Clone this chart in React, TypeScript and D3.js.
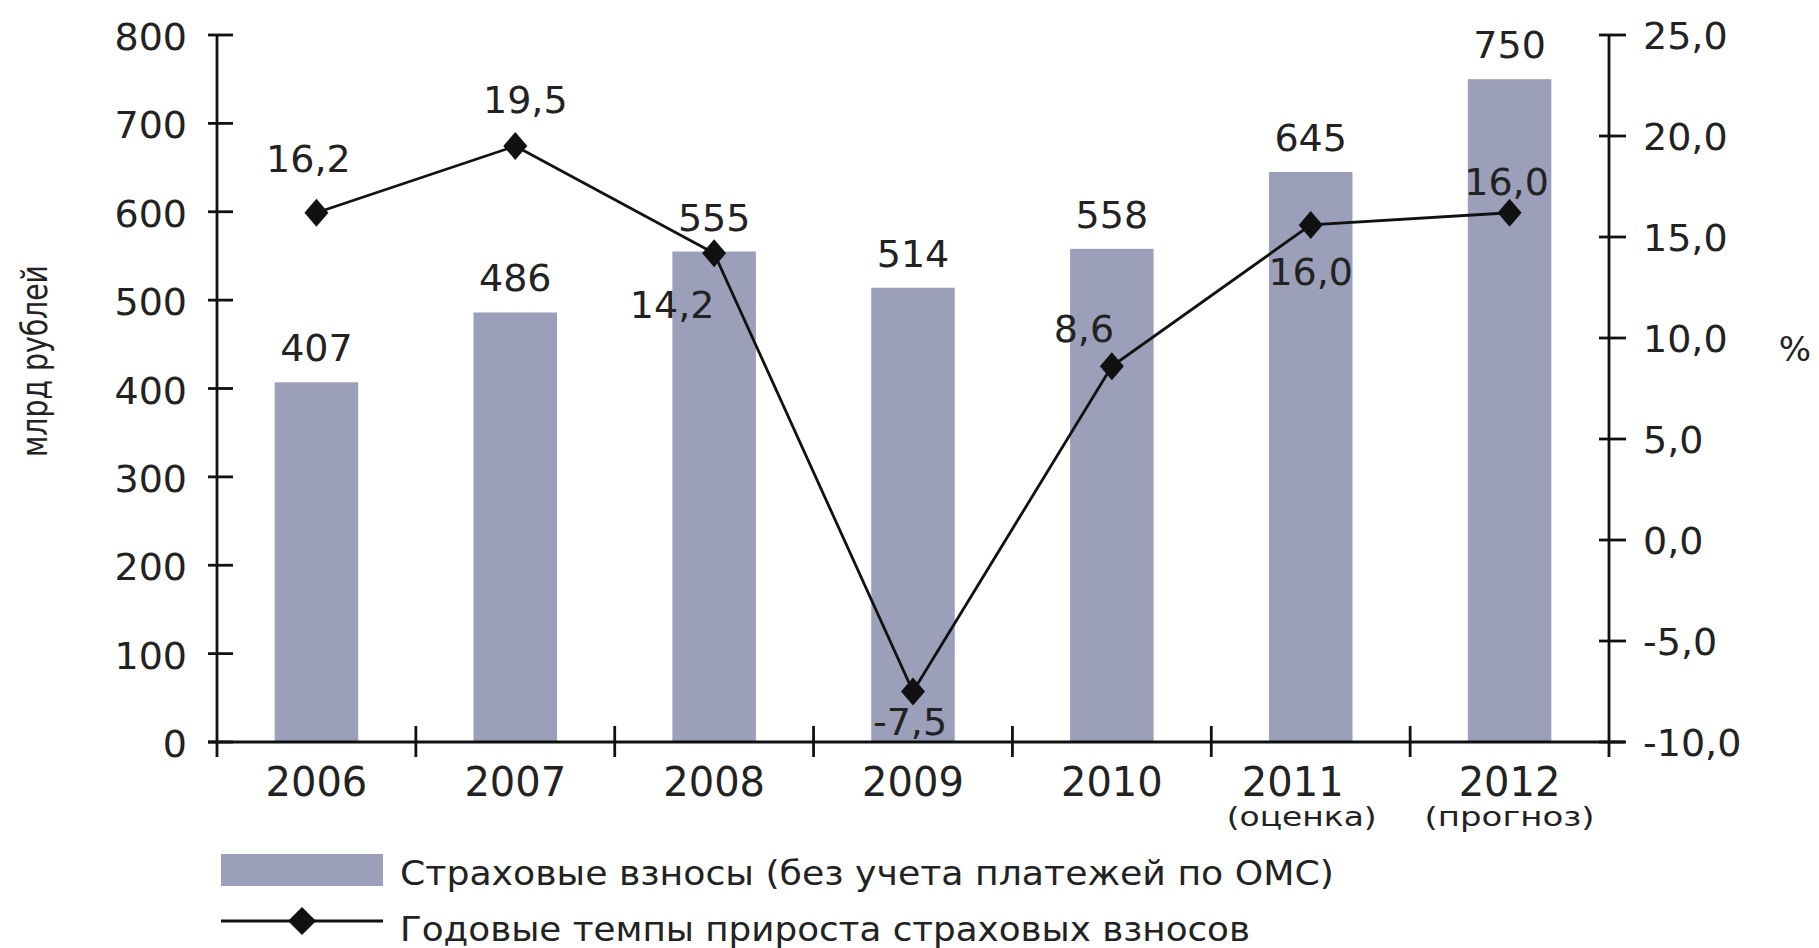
import React from "react";
import * as d3 from "d3";

const years = ["2006", "2007", "2008", "2009", "2010", "2011", "2012"];
const yearNotes = ["", "", "", "", "", "(оценка)", "(прогноз)"];
const contributions = [407, 486, 555, 514, 558, 645, 750];
const growth = [16.2, 19.5, 14.2, -7.5, 8.6, 15.6, 16.2];
const growthLabels = ["16,2", "19,5", "14,2", "-7,5", "8,6", "16,0", "16,0"];
const leftTicks = [0, 100, 200, 300, 400, 500, 600, 700, 800];
const rightTicks = [-10, -5, 0, 5, 10, 15, 20, 25];
const legendBars = "Страховые взносы (без учета платежей по ОМС)";
const legendLine = "Годовые темпы прироста страховых взносов";
const leftTitle = "млрд рублей";
const rightTitle = "%";

// layout (not data)
const growthLabelOffsets: [number, number][] = [
  [-8, -55], [10, -47], [-42, 51], [-3, 29], [-28, -38], [0, 46], [-3, -32],
];
const yearLabelShift = [0, 0, 0, 0, 0, -18, 0];
const noteWidths = [0, 0, 0, 0, 0, 150, 170];

const W = 1819;
const H = 948;
const X0 = 217;
const X1 = 1609;
const Y0 = 742;
const Y1 = 35;
const FONT = "'DejaVu Sans', sans-serif";
const BAR = "#9b9fb9";

export default function App() {
  const x = d3.scaleBand<string>().domain(years).range([X0, X1]).paddingInner(0.58).paddingOuter(0.29);
  const yL = d3.scaleLinear().domain([0, 800]).range([Y0, Y1]);
  const yR = d3.scaleLinear().domain([-10, 25]).range([Y0, Y1]);
  const step = x.step();
  const cx = (i: number) => (x(years[i]) as number) + x.bandwidth() / 2;
  const line = d3.line<number>().x((_, i) => cx(i)).y((d) => yR(d));
  const fmt = (v: number) => v.toFixed(1).replace(".", ",");
  const diamond = (px: number, py: number, w = 12, h = 14) =>
    `M${px},${py - h}L${px + w},${py}L${px},${py + h}L${px - w},${py}Z`;

  return (
    <svg width={W} height={H} style={{ position: "absolute", left: 0, top: 0, background: "#fff" }}
      fontFamily={FONT}>
      <rect width={W} height={H} fill="#fff" />
      {/* bars */}
      {contributions.map((v, i) => (
        <rect key={"b" + i} x={x(years[i])} y={yL(v)} width={x.bandwidth()} height={Y0 - yL(v)} fill={BAR} />
      ))}
      {/* axes */}
      <g stroke="#111" strokeWidth={2.8} fill="none">
        <line x1={X0} y1={Y1} x2={X0} y2={Y0 + 15} />
        <line x1={X1} y1={Y1} x2={X1} y2={Y0 + 15} />
        <line x1={X0 - 9} y1={Y0} x2={X1 + 16} y2={Y0} />
        {leftTicks.map((t) => (
          <line key={"lt" + t} x1={X0 - 9} x2={X0 + 16} y1={yL(t)} y2={yL(t)} />
        ))}
        {rightTicks.map((t) => (
          <line key={"rt" + t} x1={X1 - 10} x2={X1 + 17} y1={yR(t)} y2={yR(t)} />
        ))}
        {years.slice(1).map((_, i) => (
          <line key={"xt" + i} x1={X0 + step * (i + 1)} x2={X0 + step * (i + 1)} y1={Y0 - 16} y2={Y0 + 15} />
        ))}
      </g>
      {/* tick labels */}
      <g fontSize={38} fill="#222">
        {leftTicks.map((t) => (
          <text key={"ll" + t} x={187} y={yL(t) + 15} textAnchor="end">{t}</text>
        ))}
        {rightTicks.map((t) => (
          <text key={"rl" + t} x={1643} y={yR(t) + 14} textAnchor="start">{fmt(t)}</text>
        ))}
      </g>
      <g fill="#222">
        {years.map((yv, i) => (
          <text key={"xl" + i} x={cx(i) + yearLabelShift[i]} y={796} fontSize={40} textAnchor="middle">{yv}</text>
        ))}
        {yearNotes.map((n, i) =>
          n ? (
            <text key={"xn" + i} x={cx(i) + yearLabelShift[i] / 2} y={826} fontSize={26} textAnchor="middle"
              textLength={noteWidths[i]} lengthAdjust="spacingAndGlyphs">{n}</text>
          ) : null
        )}
      </g>
      {/* axis titles */}
      <text transform="translate(47,361) rotate(-90)" fontSize={36} textAnchor="middle" fill="#222"
        textLength={192} lengthAdjust="spacingAndGlyphs">{leftTitle}</text>
      <text x={1795} y={361} fontSize={34} textAnchor="middle" fill="#222">{rightTitle}</text>
      {/* bar value labels */}
      <g fontSize={38} fill="#222">
        {contributions.map((v, i) => (
          <text key={"bv" + i} x={cx(i)} y={yL(v) - 21} textAnchor="middle">{v}</text>
        ))}
      </g>
      {/* growth line */}
      <path d={line(growth) as string} fill="none" stroke="#111" strokeWidth={2.8} />
      {growth.map((g, i) => (
        <path key={"d" + i} d={diamond(cx(i), yR(g))} fill="#111" />
      ))}
      <g fontSize={38} fill="#222">
        {growth.map((g, i) => (
          <text key={"gl" + i} x={cx(i) + growthLabelOffsets[i][0]} y={yR(g) + growthLabelOffsets[i][1] + 14}
            textAnchor="middle">{growthLabels[i]}</text>
        ))}
      </g>
      {/* legend */}
      <rect x={221} y={854} width={162} height={32} fill={BAR} />
      <line x1={221} x2={383} y1={921} y2={921} stroke="#111" strokeWidth={2.8} />
      <path d={diamond(302, 921, 14, 14)} fill="#111" />
      <text x={400} y={885} fontSize={33} fill="#222" textLength={934} lengthAdjust="spacingAndGlyphs">{legendBars}</text>
      <text x={400} y={941} fontSize={33} fill="#222" textLength={850} lengthAdjust="spacingAndGlyphs">{legendLine}</text>
    </svg>
  );
}
